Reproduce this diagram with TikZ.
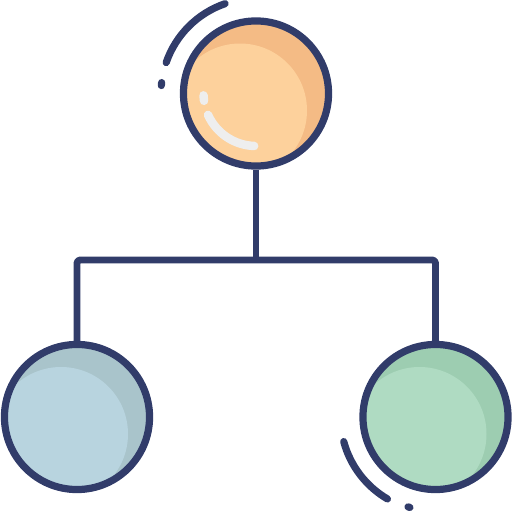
\documentclass[tikz,border=0pt]{standalone}
\usetikzlibrary{calc}
\definecolor{navy}{HTML}{313C6A}
\definecolor{orangeL}{HTML}{FDD19C}
\definecolor{orangeD}{HTML}{F4BB85}
\definecolor{blueL}{HTML}{B8D4DF}
\definecolor{blueD}{HTML}{A9C4CB}
\definecolor{greenL}{HTML}{AFDBC2}
\definecolor{greenD}{HTML}{9DCDB1}
\definecolor{hilite}{HTML}{EEEEEE}
\tikzset{
  ball/.style n args={2}{circle, inner sep=0pt, minimum size=1.45cm, draw=navy,
    line width=0.072cm, fill=#2,
    path picture={\fill[#1] ($(path picture bounding box.center)+(-16,17)$) circle (67);}},
  conn/.style={draw=navy, line width=0.069cm, rounded corners=0.9pt, line join=round},
  deco/.style={draw=navy, line width=0.072cm, line cap=round},
  shine/.style={draw=hilite, line width=0.085cm, line cap=round}
}
\begin{document}
\begin{tikzpicture}[x=0.01cm,y=-0.01cm]
\useasboundingbox (0,0) rectangle (512,512);
\node[ball={orangeL}{orangeD}] (top) at (256,93.5) {};
\node[ball={blueL}{blueD}] (bl) at (77,417) {};
\node[ball={greenL}{greenD}] (br) at (435.5,417) {};
\coordinate (j) at (256,260);
\draw[conn] (top.south) -- (j);
\draw[conn] (bl.north) -- (bl.north |- j) -- (br.north |- j) -- (br.north);
% highlights on top ball
\draw[shine] ([shift={(156:52.5)}]top.center) arc[start angle=156, end angle=92, radius=52.5];
\draw[shine] ([shift={(178:52.5)}]top.center) arc[start angle=178, end angle=172, radius=52.5];
% motion arcs
\draw[deco] ([shift={(-109:95)}]top.center) arc[start angle=-109, end angle=-161, radius=95];
\draw[deco] ([shift={(-173.4:95)}]top.center) arc[start angle=-173.4, end angle=-175.2, radius=95];
\draw[deco] ([shift={(165:95)}]br.center) arc[start angle=165, end angle=120.4, radius=95];
\draw[deco] ([shift={(107:94)}]br.center) arc[start angle=107, end angle=105.8, radius=94];
\end{tikzpicture}
\end{document}
